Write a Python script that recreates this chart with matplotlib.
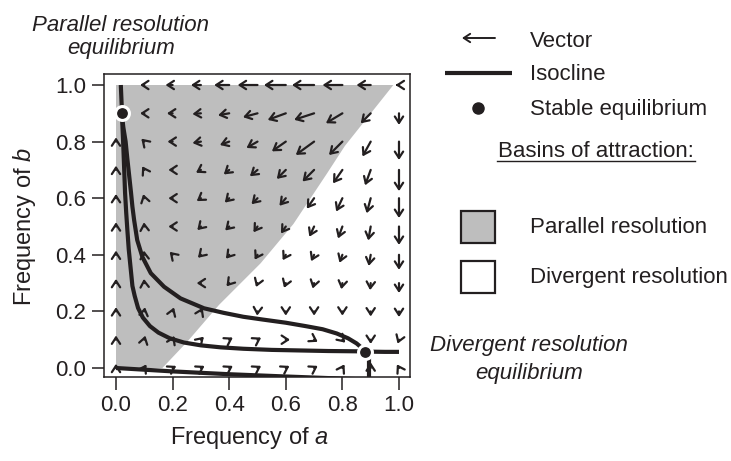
import numpy as np
import matplotlib
matplotlib.use("Agg")
import matplotlib.pyplot as plt
from matplotlib.patches import FancyArrowPatch, Rectangle, Polygon, ArrowStyle

plt.rcParams['font.family'] = ['Liberation Sans', 'DejaVu Sans']
plt.rcParams['mathtext.fontset'] = 'custom'
plt.rcParams['mathtext.rm'] = 'Liberation Sans'
plt.rcParams['mathtext.it'] = 'Liberation Sans:italic'

INK = '#231f20'
GRAY = '#bebebe'

# ---------------- data ----------------
grid_a = [0.0, 0.1, 0.2, 0.3, 0.4, 0.5, 0.6, 0.7, 0.8, 0.9, 1.0]
grid_b = [1.0, 0.9, 0.8, 0.7, 0.6, 0.5, 0.4, 0.3, 0.2, 0.1, 0.0]   # rows, top to bottom

# vector direction (degrees) per grid cell; nan = no arrow drawn
vec_angle = [
    [np.nan, 180, 180, 180, 180, 180, 180, 180, 180, 180, 180],
    [np.nan, 180, 180, 185, 190, 195, 200, 198, 211, 225, 270],
    [90, 135, 180, 190, 200, 210, 215, 216, 225, 241, 270],
    [90, 120, 180, 210, 220, 220, 225, 225, 235, 250, 270],
    [90, 105, 180, 215, 225, 225, 230, 235, 245, 255, 270],
    [90, 95, 180, 225, 225, 235, 235, 245, 250, 260, 270],
    [90, 95, 135, 225, 230, 240, 240, 245, 250, 260, 270],
    [90, 95, np.nan, 180, 230, 250, 250, 255, 260, 265, 270],
    [90, 80, 70, 65, np.nan, 265, 270, 270, 270, 270, 270],
    [90, 75, 65, 45, 30, 30, 0, 330, 315, 270, 250],
    [90, 60, 30, 30, 30, 30, 30, 30, 60, 90, 120],
]
# vector length (frequency units) per grid cell
vec_length = [
    [0, .015, .025, .035, .053, .070, .077, .078, .070, .050, .012],
    [0, .015, .020, .030, .040, .053, .068, .074, .068, .050, .041],
    [.015, .015, .018, .030, .035, .045, .060, .080, .067, .060, .065],
    [.015, .015, .015, .020, .025, .035, .045, .058, .058, .058, .075],
    [.015, .015, .015, .018, .022, .030, .035, .045, .052, .055, .070],
    [.015, .015, .015, .018, .020, .025, .030, .040, .045, .050, .065],
    [.015, .015, .015, .015, .018, .020, .022, .025, .030, .040, .053],
    [.015, .015, 0, .015, .015, .015, .018, .020, .022, .025, .035],
    [.015, .015, .015, .015, 0, .015, .015, .015, .015, .018, .020],
    [.015, .015, .015, .015, .015, .015, .015, .015, .015, .015, .015],
    [.015, .015, .015, .015, .015, .015, .015, .015, .015, .020, .015],
]

# isoclines
iso1_a = [0.017, 0.020, 0.023, 0.026, 0.029, 0.032, 0.036, 0.040, 0.045, 0.050,
          0.058, 0.066, 0.078, 0.095, 0.120, 0.150, 0.190, 0.240, 0.300, 0.370,
          0.450, 0.550, 0.650, 0.750, 0.850, 0.880, 0.950, 1.000]
iso1_b = [1.000, 0.930, 0.850, 0.780, 0.700, 0.620, 0.550, 0.490, 0.420, 0.370,
          0.290, 0.255, 0.212, 0.178, 0.148, 0.125, 0.105, 0.090, 0.080, 0.073,
          0.068, 0.064, 0.062, 0.060, 0.059, 0.058, 0.057, 0.057]
iso2_a = [0.020, 0.026, 0.034, 0.040, 0.046, 0.053, 0.058, 0.064, 0.075, 0.093,
          0.123, 0.170, 0.228, 0.311, 0.380, 0.450, 0.520, 0.600, 0.670, 0.730,
          0.780, 0.820, 0.850, 0.870, 0.880]
iso2_b = [0.900, 0.850, 0.800, 0.740, 0.685, 0.620, 0.570, 0.523, 0.452, 0.393,
          0.335, 0.287, 0.246, 0.211, 0.195, 0.181, 0.171, 0.160, 0.148, 0.137,
          0.122, 0.105, 0.087, 0.070, 0.058]
iso3_a = [0.0, 0.2, 0.4, 0.6, 1.0]
iso3_b = [0.0, -0.012, -0.022, -0.030, -0.045]
iso4_a = [0.895, 0.895]
iso4_b = [0.058, -0.06]

# basin boundary (parallel resolution basin = left/top region)
basin_a = [0.0, 0.164, 0.252, 0.364, 0.511, 0.627, 0.744, 0.809, 0.98, 0.0]
basin_b = [0.0, 0.0, 0.093, 0.223, 0.370, 0.509, 0.685, 0.785, 1.0, 1.0]

# stable equilibria
eq_a = [0.02, 0.88]
eq_b = [0.90, 0.058]

ticks = [0.0, 0.2, 0.4, 0.6, 0.8, 1.0]
tick_labels = ['0.0', '0.2', '0.4', '0.6', '0.8', '1.0']

# ---------------- figure ----------------
W, H = 731, 461
fig = plt.figure(figsize=(W / 100, H / 100), dpi=100)
ax = fig.add_axes([104 / W, 1 - 377 / H, 306 / W, 303 / H])
ax.set_xlim(-0.0424, 1.0389)
ax.set_ylim(-0.0318, 1.0389)

ax.add_patch(Polygon(list(zip(basin_a, basin_b)), closed=True, facecolor=GRAY,
                     edgecolor='none', zorder=0))

style = ArrowStyle('->', head_length=4.6, head_width=3.0)
for i, b in enumerate(grid_b):
    for j, a in enumerate(grid_a):
        ang = vec_angle[i][j]
        L = vec_length[i][j]
        if np.isnan(ang) or L <= 0:
            continue
        u = L * np.cos(np.deg2rad(ang))
        v = L * np.sin(np.deg2rad(ang))
        arr = FancyArrowPatch((a, b), (a + u, b + v), arrowstyle=style,
                              mutation_scale=1, shrinkA=0, shrinkB=0,
                              color=INK, lw=1.6, zorder=2)
        ax.add_patch(arr)

for xa, yb in [(iso1_a, iso1_b), (iso2_a, iso2_b), (iso3_a, iso3_b), (iso4_a, iso4_b)]:
    ax.plot(xa, yb, color=INK, lw=3.0, solid_capstyle='butt',
            solid_joinstyle='round', zorder=3)

ax.plot(eq_a, eq_b, 'o', ms=10, color=INK, mec='white', mew=2.2, zorder=4,
        linestyle='none')

for sp in ax.spines.values():
    sp.set_linewidth(1.1)
    sp.set_color(INK)
ax.set_xticks(ticks)
ax.set_xticklabels(tick_labels)
ax.set_yticks(ticks)
ax.set_yticklabels(tick_labels)
ax.tick_params(direction='out', length=9, width=1.1, labelsize=16, pad=4,
               colors=INK)

# ---------------- overlay in pixel coordinates ----------------
ov = fig.add_axes([0, 0, 1, 1], zorder=5)
ov.set_xlim(0, W)
ov.set_ylim(H, 0)
ov.axis('off')
ov.patch.set_alpha(0)

ov.text(249, 444, 'Frequency of $a$', fontsize=17, ha='center', va='baseline', color=INK)
ov.text(31, 227, 'Frequency of $b$', fontsize=17, ha='center', va='baseline',
        rotation=90, rotation_mode='anchor', color=INK)

ov.text(121, 31, 'Parallel resolution', fontsize=16, style='italic', ha='center',
        va='baseline', color=INK)
ov.text(121, 54, 'equilibrium', fontsize=16, style='italic', ha='center',
        va='baseline', color=INK)
ov.text(529, 351, 'Divergent resolution', fontsize=16, style='italic', ha='center',
        va='baseline', color=INK)
ov.text(529, 379, 'equilibrium', fontsize=16, style='italic', ha='center',
        va='baseline', color=INK)

# legend
ov.add_patch(FancyArrowPatch((495, 38), (462, 38), arrowstyle=style, mutation_scale=1,
                             shrinkA=0, shrinkB=0, color=INK, lw=1.4))
ov.text(530, 47, 'Vector', fontsize=16, ha='left', va='baseline', color=INK)
ov.plot([445, 512], [73, 73], color=INK, lw=3.0, solid_capstyle='butt')
ov.text(530, 80, 'Isocline', fontsize=16, ha='left', va='baseline', color=INK)
ov.plot([478], [108], 'o', ms=8.0, color=INK)
ov.text(530, 115, 'Stable equilibrium', fontsize=16, ha='left', va='baseline', color=INK)
ov.text(596, 157, 'Basins of attraction:', fontsize=16, ha='center',
        va='baseline', color=INK)
ov.plot([497, 695], [161.5, 161.5], color=INK, lw=1.0)
ov.add_patch(Rectangle((461, 211), 34, 32, facecolor=GRAY, edgecolor=INK, lw=1.6))
ov.text(530, 233, 'Parallel resolution', fontsize=16, ha='left', va='baseline', color=INK)
ov.add_patch(Rectangle((461, 261), 34, 32, facecolor='white', edgecolor=INK, lw=1.6))
ov.text(530, 283, 'Divergent resolution', fontsize=16, ha='left', va='baseline', color=INK)

fig.savefig('out.png', dpi=100)
